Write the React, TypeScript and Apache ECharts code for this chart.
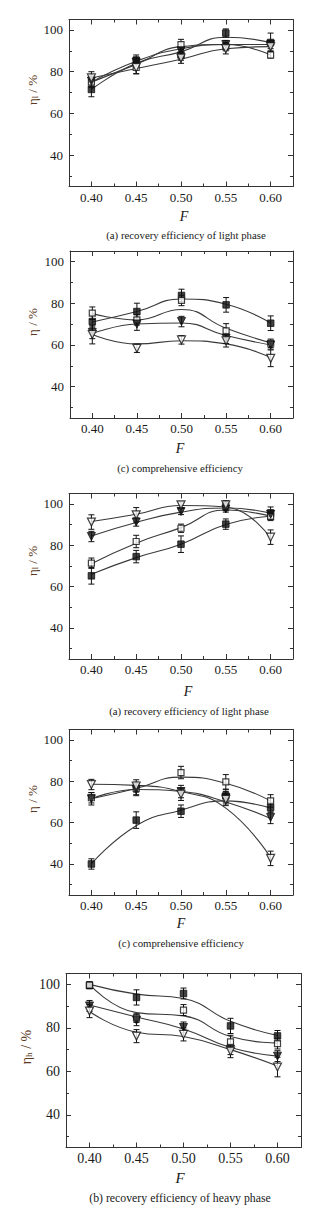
import React, { useEffect, useRef } from "react";
import * as echarts from "echarts";

// ---------- shared axis data ----------
const F_VALUES = [0.4, 0.45, 0.5, 0.55, 0.6];
const F_MINOR = [0.425, 0.475, 0.525, 0.575];
const Y_MAJOR = [40, 60, 80, 100];
const Y_MINOR = [30, 50, 70, 90];

// ---------- panel 1: (a) recovery efficiency of light phase ----------
const p1SqFilled = [71.5, 85.5, 88, 98.5, 94];
const p1SqFilledErr = [3.5, 2.5, 2.5, 2, 4.5];
const p1SqFilledFit = [71.5, 84, 89.5, 96.5, 94];
const p1SqOpen = [75, 82, 93, 92, 88];
const p1SqOpenErr = [2.5, 3, 2.5, 2, 1.5];
const p1SqOpenFit = [75, 83.5, 92, 93, 88];
const p1TriFilled = [75.5, 84.5, 90, 93, 93];
const p1TriFilledErr = [2.5, 2.5, 2, 2, 2];
const p1TriFilledFit = [75, 85, 91, 93, 93];
const p1TriOpen = [77, 82, 86.5, 91, 92];
const p1TriOpenErr = [3, 3, 2.5, 2.5, 2];
const p1TriOpenFit = [77, 81.5, 86, 91, 92];

// ---------- panel 2: (c) comprehensive efficiency ----------
const p2SqFilled = [71.2, 76, 83.7, 79.2, 70.4];
const p2SqFilledErr = [3, 4, 3, 3.5, 3.5];
const p2SqFilledFit = [71, 76, 82, 79.5, 70.5];
const p2SqOpen = [75.2, 72, 81.3, 66.7, 60.8];
const p2SqOpenErr = [3, 2.5, 2.5, 3.5, 2];
const p2SqOpenFit = [75, 72, 77, 68, 61];
const p2TriFilled = [66, 70, 71.2, 63.2, 60];
const p2TriFilledErr = [3, 3, 2.5, 2.5, 2];
const p2TriFilledFit = [65.5, 70, 70.5, 64.5, 60];
const p2TriOpen = [65, 58.4, 62.4, 62, 53.6];
const p2TriOpenErr = [4.5, 2, 2, 3, 4];
const p2TriOpenFit = [65, 60.5, 62, 60.5, 54];

// ---------- panel 3: (a) recovery efficiency of light phase ----------
const p3SqFilled = [65.2, 74.5, 80.5, 90.2, 95.5];
const p3SqFilledErr = [4, 3, 4, 2.5, 3];
const p3SqFilledFit = [66, 74, 80.5, 90, 94];
const p3SqOpen = [71.3, 81.8, 88.2, 98.7, 93.9];
const p3SqOpenErr = [2.5, 3, 2, 2, 2];
const p3SqOpenFit = [71, 81, 88.5, 97, 94];
const p3TriFilled = [84.2, 91.2, 96.3, 97.5, 95];
const p3TriFilledErr = [2.5, 2, 1.5, 1.5, 2];
const p3TriFilledFit = [84.5, 91, 96, 98, 95.5];
const p3TriOpen = [91.2, 94.7, 99.5, 99.5, 83.9];
const p3TriOpenErr = [3.5, 3.5, 1.5, 2, 3.5];
const p3TriOpenFit = [91.5, 95, 99.2, 98.5, 83.5];

// ---------- panel 4: (c) comprehensive efficiency ----------
const p4SqFilled = [40, 61.2, 65.5, 72.9, 67.3];
const p4SqFilledErr = [2.5, 4, 3, 3, 2.5];
const p4SqFilledFit = [40, 58.5, 66, 70.5, 67];
const p4SqOpen = [72, 76.5, 84.2, 79.7, 70.5];
const p4SqOpenErr = [2.5, 3, 3, 3.5, 3];
const p4SqOpenFit = [71.5, 76.5, 82, 79, 70.5];
const p4TriFilled = [71.5, 76, 75, 72, 62.5];
const p4TriFilledErr = [3, 3, 3, 3, 3];
const p4TriFilledFit = [71.5, 76, 75, 70, 62];
const p4TriOpen = [78.4, 77.7, 73.7, 71.2, 42.7];
const p4TriOpenErr = [2.5, 3, 3, 3, 3.5];
const p4TriOpenFit = [78.5, 78, 75, 67, 43];

// ---------- panel 5: (b) recovery efficiency of heavy phase ----------
const p5SqFilled = [99.5, 94, 95.8, 80.9, 76.3];
const p5SqFilledErr = [1.5, 3.5, 2.5, 3.5, 2.5];
const p5SqFilledFit = [100, 95.5, 93.5, 83, 76.5];
const p5SqOpen = [99.7, 84.5, 88.2, 73.6, 72.8];
const p5SqOpenErr = [1.5, 2, 2.5, 3, 2.5];
const p5SqOpenFit = [100, 87, 85.5, 76, 73];
const p5TriFilled = [90.1, 83.5, 80.2, 70.2, 67];
const p5TriFilledErr = [2.5, 2.5, 2.5, 2.5, 2.5];
const p5TriFilledFit = [90.5, 85, 79.5, 71, 67];
const p5TriOpen = [87.7, 76.2, 77, 69.3, 62];
const p5TriOpenErr = [3, 3, 3, 3, 4.5];
const p5TriOpenFit = [87.5, 78, 76, 70, 62.5];

const CAPTIONS = [
  "(a) recovery efficiency of light phase",
  "(c) comprehensive efficiency",
  "(a) recovery efficiency of light phase",
  "(c) comprehensive efficiency",
  "(b) recovery efficiency of heavy phase",
];
const Y_NAMES = [
  ["η", "l"],
  ["η", ""],
  ["η", "l"],
  ["η", ""],
  ["η", "h"],
];

type SeriesSet = { pts: number[]; err: number[]; fit: number[]; kind: string };
const PANELS: SeriesSet[][] = [
  [
    { pts: p1SqFilled, err: p1SqFilledErr, fit: p1SqFilledFit, kind: "sqF" },
    { pts: p1SqOpen, err: p1SqOpenErr, fit: p1SqOpenFit, kind: "sqO" },
    { pts: p1TriFilled, err: p1TriFilledErr, fit: p1TriFilledFit, kind: "trF" },
    { pts: p1TriOpen, err: p1TriOpenErr, fit: p1TriOpenFit, kind: "trO" },
  ],
  [
    { pts: p2SqFilled, err: p2SqFilledErr, fit: p2SqFilledFit, kind: "sqF" },
    { pts: p2SqOpen, err: p2SqOpenErr, fit: p2SqOpenFit, kind: "sqO" },
    { pts: p2TriFilled, err: p2TriFilledErr, fit: p2TriFilledFit, kind: "trF" },
    { pts: p2TriOpen, err: p2TriOpenErr, fit: p2TriOpenFit, kind: "trO" },
  ],
  [
    { pts: p3SqFilled, err: p3SqFilledErr, fit: p3SqFilledFit, kind: "sqF" },
    { pts: p3SqOpen, err: p3SqOpenErr, fit: p3SqOpenFit, kind: "sqO" },
    { pts: p3TriFilled, err: p3TriFilledErr, fit: p3TriFilledFit, kind: "trF" },
    { pts: p3TriOpen, err: p3TriOpenErr, fit: p3TriOpenFit, kind: "trO" },
  ],
  [
    { pts: p4SqFilled, err: p4SqFilledErr, fit: p4SqFilledFit, kind: "sqF" },
    { pts: p4SqOpen, err: p4SqOpenErr, fit: p4SqOpenFit, kind: "sqO" },
    { pts: p4TriFilled, err: p4TriFilledErr, fit: p4TriFilledFit, kind: "trF" },
    { pts: p4TriOpen, err: p4TriOpenErr, fit: p4TriOpenFit, kind: "trO" },
  ],
  [
    { pts: p5SqFilled, err: p5SqFilledErr, fit: p5SqFilledFit, kind: "sqF" },
    { pts: p5SqOpen, err: p5SqOpenErr, fit: p5SqOpenFit, kind: "sqO" },
    { pts: p5TriFilled, err: p5TriFilledErr, fit: p5TriFilledFit, kind: "trF" },
    { pts: p5TriOpen, err: p5TriOpenErr, fit: p5TriOpenFit, kind: "trO" },
  ],
];

// ---------- layout ----------
const GRIDS = [
  { left: 69, top: 19.5, width: 224, height: 167 },
  { left: 70, top: 251, width: 223, height: 167 },
  { left: 69, top: 493.5, width: 224, height: 165.5 },
  { left: 69, top: 729.5, width: 224, height: 165.5 },
  { left: 66, top: 973.5, width: 235, height: 174 },
];
const TEXT_POS = [
  { yx: 32, yy: 90, fx: 184, fy: 216, cx: 186, cy: 235, fs: 13, cs: 10.8 },
  { yx: 32, yy: 322, fx: 180, fy: 448, cx: 180, cy: 468, fs: 13, cs: 10.8 },
  { yx: 32, yy: 561, fx: 188, fy: 691, cx: 189, cy: 711, fs: 13, cs: 10.8 },
  { yx: 32, yy: 799, fx: 181, fy: 923, cx: 181, cy: 943, fs: 13, cs: 10.8 },
  { yx: 26, yy: 1047, fx: 180, fy: 1178, cx: 180, cy: 1198, fs: 14, cs: 11.8 },
];

const FONT = "Liberation Serif";
const INK = "#1a1a1a";
const LINE = "#3a3a3a";
const NAME_COLOR = "#5a3a22";

function errRender(params: any, api: any) {
  const x = api.value(0);
  const y = api.value(1);
  const e = api.value(2);
  const top = api.coord([x, y + e]);
  const bot = api.coord([x, y - e]);
  const w = 3;
  const st = { stroke: "#111", lineWidth: 1 };
  return {
    type: "group",
    children: [
      { type: "line", shape: { x1: top[0], y1: top[1], x2: bot[0], y2: bot[1] }, style: st },
      { type: "line", shape: { x1: top[0] - w, y1: top[1], x2: top[0] + w, y2: top[1] }, style: st },
      { type: "line", shape: { x1: bot[0] - w, y1: bot[1], x2: bot[0] + w, y2: bot[1] }, style: st },
    ],
  };
}

function markerStyle(kind: string) {
  if (kind === "sqF") return { symbol: "rect", symbolSize: 6.5, symbolRotate: 0, itemStyle: { color: "#111", borderColor: "#111", borderWidth: 1 } };
  if (kind === "sqO") return { symbol: "rect", symbolSize: 6, symbolRotate: 0, itemStyle: { color: "#fff", borderColor: "#111", borderWidth: 1.2 } };
  if (kind === "trF") return { symbol: "triangle", symbolSize: 8, symbolRotate: 180, itemStyle: { color: "#111", borderColor: "#111", borderWidth: 1 } };
  return { symbol: "triangle", symbolSize: 8, symbolRotate: 180, itemStyle: { color: "#fff", borderColor: "#111", borderWidth: 1.2 } };
}

function buildOption() {
  const grid: any[] = [];
  const xAxis: any[] = [];
  const yAxis: any[] = [];
  const series: any[] = [];
  const graphic: any[] = [];

  GRIDS.forEach((g, gi) => {
    grid.push({ left: g.left, top: g.top, width: g.width, height: g.height, containLabel: false });
    const fs = TEXT_POS[gi].fs;
    const lineStyle = { color: "#333", width: 1 };
    const baseX = {
      type: "value",
      gridIndex: gi,
      min: 0.375,
      max: 0.625,
      splitLine: { show: false },
    };
    xAxis.push({
      ...baseX,
      position: "bottom",
      axisLine: { show: true, onZero: false, lineStyle },
      axisTick: { show: true, inside: true, length: 5, customValues: F_VALUES, lineStyle },
      axisLabel: {
        show: true,
        customValues: F_VALUES,
        formatter: (v: number) => v.toFixed(2),
        margin: 4,
        fontFamily: FONT,
        fontSize: fs,
        color: INK,
      },
    });
    xAxis.push({
      ...baseX,
      position: "bottom",
      axisLine: { show: false },
      axisTick: { show: true, inside: true, length: 3, customValues: F_MINOR, lineStyle },
      axisLabel: { show: false },
    });
    xAxis.push({
      ...baseX,
      position: "top",
      axisLine: { show: true, onZero: false, lineStyle },
      axisTick: { show: true, inside: true, length: 5, customValues: F_VALUES, lineStyle },
      axisLabel: { show: false },
    });
    xAxis.push({
      ...baseX,
      position: "top",
      axisLine: { show: false },
      axisTick: { show: true, inside: true, length: 3, customValues: F_MINOR, lineStyle },
      axisLabel: { show: false },
    });

    const baseY = {
      type: "value",
      gridIndex: gi,
      min: 25,
      max: 105,
      splitLine: { show: false },
    };
    yAxis.push({
      ...baseY,
      position: "left",
      axisLine: { show: true, onZero: false, lineStyle },
      axisTick: { show: true, inside: true, length: 5, customValues: Y_MAJOR, lineStyle },
      axisLabel: {
        show: true,
        customValues: Y_MAJOR,
        formatter: (v: number) => String(v),
        margin: 6,
        fontFamily: FONT,
        fontSize: fs,
        color: INK,
      },
    });
    yAxis.push({
      ...baseY,
      position: "left",
      axisLine: { show: false },
      axisTick: { show: true, inside: true, length: 3, customValues: Y_MINOR, lineStyle },
      axisLabel: { show: false },
    });
    yAxis.push({
      ...baseY,
      position: "right",
      axisLine: { show: true, onZero: false, lineStyle },
      axisTick: { show: true, inside: true, length: 5, customValues: Y_MAJOR, lineStyle },
      axisLabel: { show: false },
    });
    yAxis.push({
      ...baseY,
      position: "right",
      axisLine: { show: false },
      axisTick: { show: true, inside: true, length: 3, customValues: Y_MINOR, lineStyle },
      axisLabel: { show: false },
    });

    const xi = gi * 4;
    const yi = gi * 4;
    PANELS[gi].forEach((s, si) => {
      series.push({
        type: "line",
        name: `fit-${gi}-${si}`,
        xAxisIndex: xi,
        yAxisIndex: yi,
        data: F_VALUES.map((f, i) => [f, s.fit[i]]),
        smooth: 0.5,
        showSymbol: false,
        symbol: "none",
        lineStyle: { color: LINE, width: 1.1 },
        z: 2,
        silent: true,
      });
      series.push({
        type: "custom",
        name: `err-${gi}-${si}`,
        xAxisIndex: xi,
        yAxisIndex: yi,
        data: F_VALUES.map((f, i) => [f, s.pts[i], s.err[i]]),
        renderItem: errRender,
        z: 3,
        silent: true,
      });
      const ms = markerStyle(s.kind);
      series.push({
        type: "scatter",
        name: `pts-${gi}-${si}`,
        xAxisIndex: xi,
        yAxisIndex: yi,
        data: F_VALUES.map((f, i) => [f, s.pts[i]]),
        ...ms,
        z: 4,
        silent: true,
      });
    });

    const t = TEXT_POS[gi];
    const [sym, sub] = Y_NAMES[gi];
    graphic.push({
      type: "text",
      x: t.yx,
      y: t.yy,
      rotation: Math.PI / 2,
      style: {
        text: sub ? `{a|${sym}}{s|${sub}}{a| / %}` : `{a|${sym} / %}`,
        rich: {
          a: { fontFamily: FONT, fontSize: fs, fill: NAME_COLOR, fontStyle: "normal" },
          s: { fontFamily: FONT, fontSize: fs * 0.65, fill: NAME_COLOR, padding: [6, 0, 0, 0] },
        },
        align: "center",
        verticalAlign: "middle",
      },
    });
    graphic.push({
      type: "text",
      x: t.fx,
      y: t.fy,
      style: {
        text: "F",
        fontFamily: FONT,
        fontStyle: "italic",
        fontSize: fs + 1,
        fill: INK,
        align: "center",
        verticalAlign: "middle",
      },
    });
    graphic.push({
      type: "text",
      x: t.cx,
      y: t.cy,
      style: {
        text: CAPTIONS[gi],
        fontFamily: FONT,
        fontSize: t.cs,
        fill: INK,
        align: "center",
        verticalAlign: "middle",
      },
    });
  });

  return {
    animation: false,
    backgroundColor: "#ffffff",
    grid,
    xAxis,
    yAxis,
    series,
    graphic,
  };
}

export default function App() {
  const ref = useRef<HTMLDivElement>(null);
  useEffect(() => {
    document.body.style.margin = "0";
    if (!ref.current) return;
    const chart = echarts.init(ref.current, undefined, { renderer: "svg" });
    chart.setOption(buildOption() as any);
    return () => {
      chart.dispose();
    };
  }, []);
  return <div ref={ref} style={{ width: 327, height: 1225, background: "#fff" }} />;
}
